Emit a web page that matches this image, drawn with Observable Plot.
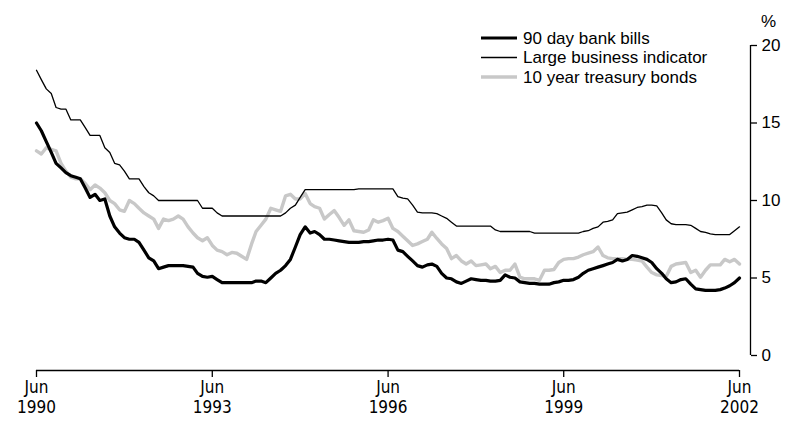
<!DOCTYPE html>
<html>
<head>
<meta charset="utf-8">
<script src="https://cdn.jsdelivr.net/npm/d3@7"></script>
<script src="https://cdn.jsdelivr.net/npm/@observablehq/plot@0.6"></script>
<style>
  html, body { margin: 0; padding: 0; background: #fff; }
  #wrap { position: relative; width: 791px; height: 421px; }
  #legend { position: absolute; left: 0; top: 0; pointer-events: none; }
</style>
</head>
<body>
<div id="wrap"></div>
<script>
// Monthly series, first value = June 1990, last value = June 2002
const startYear = 1990, startMonth = 5; // June (0-based)

const bankBills = [
  15.0, 14.5, 13.8, 13.1, 12.4, 12.1, 11.8, 11.6, 11.5, 11.4, 10.8, 10.2,
  10.4, 10.0, 10.1, 9.0, 8.3, 7.9, 7.6, 7.5, 7.5, 7.3, 6.8, 6.3,
  6.1, 5.6, 5.7, 5.8, 5.8, 5.8, 5.8, 5.75, 5.7, 5.3, 5.1, 5.05,
  5.1, 4.9, 4.7, 4.7, 4.7, 4.7, 4.7, 4.7, 4.7, 4.8, 4.8, 4.7,
  5.0, 5.3, 5.5, 5.8, 6.2, 7.0, 7.8, 8.3, 7.9, 8.0, 7.8, 7.5,
  7.5, 7.45, 7.4, 7.35, 7.3, 7.3, 7.3, 7.35, 7.35, 7.4, 7.45, 7.45,
  7.5, 7.45, 6.8, 6.7, 6.4, 6.1, 5.8, 5.7, 5.85, 5.9, 5.75, 5.3,
  5.0, 4.95, 4.75, 4.65, 4.8, 4.95, 4.9, 4.85, 4.85, 4.8, 4.8, 4.85,
  5.2, 5.05, 5.0, 4.75, 4.7, 4.65, 4.65, 4.6, 4.6, 4.6, 4.7, 4.75,
  4.85, 4.85, 4.9, 5.05, 5.3, 5.5, 5.6, 5.7, 5.8, 5.9, 6.0, 6.2,
  6.1, 6.2, 6.45, 6.4, 6.3, 6.2, 6.0, 5.6, 5.3, 4.95, 4.7, 4.75,
  4.9, 4.95, 4.6, 4.3, 4.25, 4.2, 4.2, 4.2, 4.25, 4.35, 4.5, 4.7,
  5.0
];

const largeBusiness = [
  18.4, 17.8, 17.2, 16.9, 16.0, 15.9, 15.9, 15.2, 15.2, 15.2, 14.7, 14.2,
  14.2, 14.2, 13.4, 13.1, 12.4, 12.3, 11.9, 11.4, 11.4, 11.4, 10.9, 10.5,
  10.3, 10.0, 10.0, 10.0, 10.0, 10.0, 10.0, 10.0, 10.0, 10.0, 9.5, 9.5,
  9.5, 9.2, 9.0, 9.0, 9.0, 9.0, 9.0, 9.0, 9.0, 9.0, 9.0, 9.0,
  9.0, 9.0, 9.0, 9.2, 9.5, 9.7, 10.2, 10.7, 10.7, 10.7, 10.7, 10.7,
  10.7, 10.7, 10.7, 10.7, 10.7, 10.7, 10.75, 10.75, 10.75, 10.75, 10.75, 10.75,
  10.75, 10.75, 10.25, 10.15, 10.1, 9.7, 9.25, 9.2, 9.2, 9.2, 9.15, 9.0,
  8.85, 8.6, 8.35, 8.35, 8.35, 8.35, 8.35, 8.35, 8.35, 8.35, 8.1, 8.0,
  8.0, 8.0, 8.0, 8.0, 8.0, 8.0, 7.9, 7.9, 7.9, 7.9, 7.9, 7.9,
  7.9, 7.9, 7.9, 7.9, 8.0, 8.05, 8.2, 8.3, 8.6, 8.65, 8.75, 9.15,
  9.2, 9.25, 9.4, 9.55, 9.6, 9.7, 9.7, 9.65, 9.2, 8.75, 8.5, 8.45,
  8.45, 8.45, 8.4, 8.2, 8.0, 7.95, 7.85, 7.8, 7.8, 7.8, 7.8, 8.05,
  8.3
];

const treasuryBonds = [
  13.2, 13.0, 13.4, 13.3, 13.2, 12.4, 11.9, 11.5, 11.4, 11.4, 11.1, 10.7,
  11.0, 10.8, 10.5, 10.0, 9.8, 9.4, 9.3, 10.0, 9.8, 9.5, 9.2, 9.0,
  8.8, 8.2, 8.8, 8.7, 8.8, 9.0, 8.8, 8.3, 7.9, 7.6, 7.4, 7.6,
  7.1, 6.8, 6.7, 6.5, 6.65, 6.6, 6.4, 6.2, 7.2, 8.0, 8.4, 8.8,
  9.5, 9.4, 9.3, 10.3, 10.4, 10.1, 10.1, 10.45, 9.8, 9.6, 9.5, 8.8,
  9.1, 9.35, 8.9, 8.4, 8.75, 8.05, 8.0, 7.95, 8.1, 8.75, 8.6, 8.7,
  8.85, 8.2, 8.0, 7.7, 7.4, 7.1, 7.2, 7.35, 7.5, 7.95, 7.55, 7.2,
  6.9, 6.25, 6.45, 6.1, 5.9, 6.1, 5.8, 5.85, 5.9, 5.6, 5.75, 5.35,
  5.5, 5.5, 5.9, 5.05, 4.95, 4.95, 4.95, 4.85, 5.5, 5.5, 5.55, 6.0,
  6.2, 6.25, 6.25, 6.35, 6.5, 6.6, 6.7, 7.0, 6.45, 6.3, 6.25, 6.25,
  6.25, 6.2, 6.2, 6.15, 6.1, 5.7, 5.35, 5.2, 5.15, 5.1, 5.75, 5.9,
  5.95, 6.0, 5.35, 5.5, 5.05, 5.5, 5.85, 5.85, 5.85, 6.2, 6.05, 6.2,
  5.9
];

const seriesNames = ["90 day bank bills", "Large business indicator", "10 year treasury bonds"];
const yTicks = [0, 5, 10, 15, 20];
const xTickYears = [1990, 1993, 1996, 1999, 2002];
const xTickMonthLabel = "Jun";

// ---- build tables
const monthDate = (i) => new Date(Date.UTC(startYear, startMonth + i, 1));
const toRows = (arr, name) => arr.map((v, i) => ({date: monthDate(i), value: v, series: name}));
const rowsBills = toRows(bankBills, seriesNames[0]);
const rowsLBI = toRows(largeBusiness, seriesNames[1]);
const rowsBonds = toRows(treasuryBonds, seriesNames[2]);
const xStart = monthDate(0);
const xEnd = monthDate(bankBills.length - 1);
const xTicks = xTickYears.map(y => new Date(Date.UTC(y, startMonth, 1)));

const styles = {
  [seriesNames[0]]: {stroke: "#000000", width: 3.2},
  [seriesNames[1]]: {stroke: "#000000", width: 1.3},
  [seriesNames[2]]: {stroke: "#c8c8c8", width: 3.4}
};

const narrow = "'Liberation Sans Narrow', 'DejaVu Sans Condensed', 'Arial Narrow', sans-serif";
const regular = "'Liberation Sans', Arial, sans-serif";

const chart = Plot.plot({
  width: 791,
  height: 421,
  marginLeft: 36,
  marginRight: 52,
  marginTop: 45,
  marginBottom: 66,
  style: {fontFamily: regular, background: "#fff", color: "#000"},
  x: {type: "utc", domain: [xStart, xEnd]},
  y: {domain: [0, 20]},
  marks: [
    // lines
    Plot.line(rowsBonds, {x: "date", y: "value", stroke: styles[seriesNames[2]].stroke, strokeWidth: styles[seriesNames[2]].width, strokeLinejoin: "round"}),
    Plot.line(rowsLBI, {x: "date", y: "value", stroke: styles[seriesNames[1]].stroke, strokeWidth: styles[seriesNames[1]].width, strokeLinejoin: "round"}),
    Plot.line(rowsBills, {x: "date", y: "value", stroke: styles[seriesNames[0]].stroke, strokeWidth: styles[seriesNames[0]].width, strokeLinejoin: "round"}),
    // x axis (offset below the plot)
    Plot.ruleY([0], {dy: 15, stroke: "#000", strokeWidth: 1.3}),
    Plot.axisX({
      ticks: xTicks,
      tickSize: 7,
      dy: 15,
      tickPadding: 1,
      tickFormat: d => `${xTickMonthLabel}\n${d.getUTCFullYear()}`,
      fontSize: 17,
      fontFamily: narrow,
      lineHeight: 1.18,
      label: null,
      strokeWidth: 1.3
    }),
    // y axis on the right
    Plot.ruleX([xEnd], {y1: 0, y2: 20, dx: 11, stroke: "#000", strokeWidth: 1.3}),
    Plot.axisY({
      anchor: "right",
      ticks: yTicks,
      tickSize: 6,
      dx: 11,
      tickPadding: 5,
      fontSize: 17,
      label: null,
      strokeWidth: 1.3
    }),
    Plot.text(["%"], {frameAnchor: "top-right", dx: 29, dy: -19, fontSize: 17, textAnchor: "middle", lineAnchor: "bottom"})
  ]
});

const wrap = document.getElementById("wrap");
wrap.appendChild(chart);

// legend overlay
const lg = d3.select(wrap).append("svg")
  .attr("id", "legend")
  .attr("width", 791).attr("height", 421)
  .style("font-family", regular);
seriesNames.forEach((name, i) => {
  const y = 38 + i * 19.5;
  lg.append("line")
    .attr("x1", 481).attr("x2", 517).attr("y1", y).attr("y2", y)
    .attr("stroke", styles[name].stroke)
    .attr("stroke-width", styles[name].width);
  lg.append("text")
    .attr("x", 523).attr("y", y).attr("dy", "0.35em")
    .attr("font-size", 17)
    .text(name);
});
</script>
</body>
</html>
